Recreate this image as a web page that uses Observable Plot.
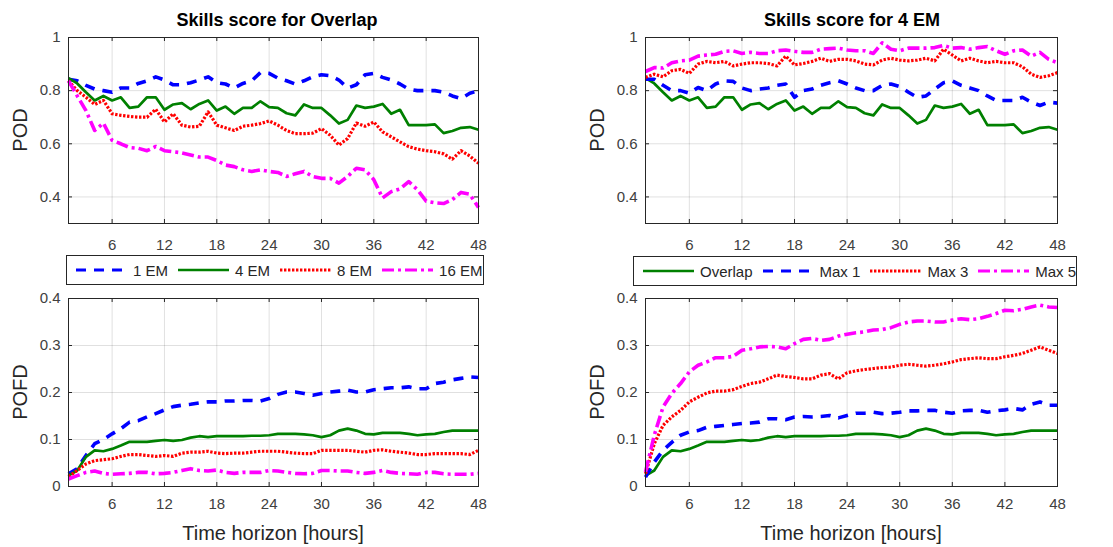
<!DOCTYPE html>
<html><head><meta charset="utf-8">
<script src="https://cdn.jsdelivr.net/npm/d3@7"></script>
<script src="https://cdn.jsdelivr.net/npm/@observablehq/plot@0.6"></script>
<style>
body{margin:0;background:#fff;font-family:"Liberation Sans",Arial,Helvetica,sans-serif;}
#root{position:relative;width:1113px;height:547px;overflow:hidden;background:#fff;}
.abs{position:absolute;}
.title{font-weight:bold;font-size:18px;line-height:18px;color:#000;white-space:nowrap;transform:translateX(-50%);}
.ylab{font-size:20px;line-height:20px;color:#262626;transform:translate(-50%,-50%) rotate(-90deg);white-space:nowrap;}
.xlab{font-size:20px;line-height:20px;color:#262626;transform:translate(-50%,-50%);white-space:nowrap;}
.legend{border:1px solid #262626;box-sizing:border-box;background:#fff;display:flex;align-items:center;padding-left:9px;z-index:5;font-size:15px;color:#262626;}
.item{display:flex;align-items:center;margin-right:10px;white-space:nowrap;}
.item svg{margin-right:6px;display:block;}
</style></head>
<body><div id="root"></div>
<script>
const hours = [1,2,3,4,5,6,7,8,9,10,11,12,13,14,15,16,17,18,19,20,21,22,23,24,25,26,27,28,29,30,31,32,33,34,35,36,37,38,39,40,41,42,43,44,45,46,47,48];
const xTicks = [6,12,18,24,30,36,42,48];
const podTicks = [0.4,0.6,0.8,1];
const pofdTicks = [0,0.1,0.2,0.3,0.4];

// POD, "Skills score for Overlap"
const pod1EM = [.843,.837,.82,.806,.80,.794,.81,.81,.827,.837,.852,.84,.822,.822,.83,.84,.852,.83,.825,.81,.827,.837,.868,.865,.847,.837,.825,.837,.852,.86,.856,.84,.81,.822,.86,.865,.85,.84,.825,.806,.80,.80,.80,.794,.78,.77,.79,.80];
const pod4EM = [.847,.827,.794,.763,.78,.763,.775,.735,.74,.775,.775,.728,.748,.753,.73,.75,.763,.725,.74,.713,.735,.735,.76,.738,.735,.715,.707,.748,.735,.735,.707,.676,.69,.744,.735,.74,.75,.713,.728,.67,.67,.67,.673,.64,.648,.66,.663,.653];
const pod8EM = [.837,.80,.775,.748,.763,.713,.707,.703,.70,.70,.73,.682,.713,.67,.663,.666,.72,.67,.66,.65,.666,.67,.676,.686,.67,.65,.638,.638,.64,.657,.632,.595,.62,.678,.666,.682,.645,.626,.607,.589,.58,.574,.57,.562,.542,.574,.554,.527];
const pod16EM = [.837,.78,.725,.65,.678,.613,.60,.586,.583,.574,.59,.574,.57,.566,.558,.55,.55,.537,.52,.514,.502,.496,.502,.496,.492,.477,.487,.496,.477,.47,.47,.452,.477,.508,.502,.465,.396,.42,.43,.458,.427,.384,.378,.375,.39,.417,.41,.36];
// POD, "Skills score for 4 EM"
const podOverlap = pod4EM;
const podMax1 = [.843,.843,.82,.80,.80,.79,.812,.80,.825,.837,.835,.81,.80,.806,.81,.82,.825,.775,.80,.806,.82,.83,.837,.825,.81,.80,.80,.82,.825,.815,.794,.775,.78,.806,.83,.837,.82,.81,.80,.78,.763,.763,.763,.775,.757,.744,.757,.753];
const podMax3 = [.85,.862,.852,.875,.88,.865,.90,.91,.905,.91,.893,.90,.905,.905,.902,.893,.93,.897,.902,.91,.922,.91,.918,.918,.912,.90,.897,.915,.922,.915,.912,.915,.922,.912,.956,.934,.912,.922,.912,.905,.91,.905,.905,.89,.862,.85,.856,.868];
const podMax5 = [.872,.887,.885,.905,.912,.915,.93,.934,.937,.948,.95,.94,.944,.94,.94,.95,.953,.948,.944,.944,.956,.958,.96,.953,.95,.95,.94,.98,.956,.95,.96,.96,.96,.962,.97,.96,.962,.956,.962,.966,.95,.937,.95,.953,.93,.944,.918,.905];
// POFD
const pofd1EM = [.027,.038,.066,.091,.10,.112,.123,.137,.14,.148,.155,.163,.17,.173,.175,.178,.18,.18,.182,.182,.183,.183,.182,.187,.196,.201,.201,.198,.194,.198,.201,.203,.205,.201,.201,.206,.208,.21,.21,.212,.208,.208,.219,.222,.227,.23,.233,.232];
const pofd4EM = [.023,.034,.063,.077,.075,.08,.087,.095,.095,.095,.097,.099,.097,.099,.104,.107,.105,.107,.107,.107,.107,.108,.108,.109,.112,.112,.112,.111,.109,.105,.109,.119,.123,.119,.112,.111,.114,.114,.114,.112,.109,.111,.112,.116,.119,.119,.119,.119];
const pofd8EM = [.021,.034,.048,.055,.057,.059,.064,.068,.068,.066,.064,.066,.064,.071,.073,.073,.075,.071,.07,.071,.071,.073,.075,.075,.075,.073,.071,.07,.07,.077,.077,.077,.077,.075,.073,.077,.078,.075,.073,.071,.068,.068,.07,.07,.07,.07,.068,.077];
const pofd16EM = [.016,.023,.03,.033,.028,.026,.027,.028,.03,.03,.027,.028,.03,.034,.038,.034,.033,.035,.03,.028,.03,.03,.03,.034,.033,.03,.028,.027,.028,.034,.034,.033,.033,.03,.028,.03,.034,.03,.028,.027,.026,.03,.03,.027,.026,.026,.026,.028];
const pofdOverlap = pofd4EM;
const pofdMax1 = [.02,.052,.077,.094,.109,.116,.119,.126,.128,.13,.132,.134,.135,.137,.144,.144,.142,.148,.149,.148,.149,.151,.146,.151,.156,.156,.158,.155,.156,.158,.161,.161,.162,.162,.158,.156,.161,.162,.162,.158,.161,.163,.166,.163,.175,.18,.173,.173];
const pofdMax3 = [.027,.091,.13,.148,.162,.18,.19,.199,.203,.203,.206,.213,.219,.222,.229,.237,.234,.232,.229,.229,.237,.24,.229,.242,.246,.249,.251,.253,.254,.258,.26,.258,.256,.258,.261,.265,.27,.272,.274,.272,.272,.276,.279,.283,.29,.297,.29,.283];
const pofdMax5 = [.031,.109,.169,.198,.219,.244,.258,.265,.274,.274,.277,.29,.293,.297,.298,.297,.293,.304,.313,.315,.311,.313,.32,.324,.327,.329,.333,.334,.338,.345,.35,.352,.352,.35,.35,.354,.357,.355,.357,.362,.368,.375,.374,.377,.382,.386,.382,.381];

// line styles
const STY = {
  blue:    {stroke:"#0000ff", strokeWidth:3.6, strokeDasharray:"10,8"},
  green:   {stroke:"#008000", strokeWidth:2.7, strokeDasharray:null},
  red:     {stroke:"#ff0000", strokeWidth:3.2, strokeDasharray:"2.4,1.6"},
  magenta: {stroke:"#ff00ff", strokeWidth:3.6, strokeDasharray:"12,4,3,4"}
};

const root = document.getElementById("root");

function panel({series, yDomain, yTicks, left, top, width, height, ml, mr, mt, mb, xPad}) {
  const [x0, x1] = [hours[0], hours[hours.length-1]];
  const kx = (x1 - x0) * 4 / (width - ml - mr);
  const ky = (yDomain[1] - yDomain[0]) * 4 / (height - mt - mb);
  const gridStyle = {stroke:"#000", strokeOpacity:0.12, strokeWidth:1};
  const marks = [
    Plot.gridX({ticks: xTicks, ...gridStyle}),
    Plot.gridY({ticks: yTicks, ...gridStyle}),
    ...series.map(s => Plot.line(hours.map((h,i)=>({h, v:s.values[i]})), {
      x:"h", y:"v", stroke:s.style.stroke, strokeWidth:s.style.strokeWidth,
      strokeDasharray:s.style.strokeDasharray, strokeLinecap:"butt", strokeLinejoin:"round"
    })),
    // inward tick marks (MATLAB style) on all four sides
    Plot.ruleX(xTicks, {y1: yDomain[0], y2: yDomain[0] + ky, stroke:"#262626"}),
    Plot.ruleX(xTicks, {y1: yDomain[1] - ky, y2: yDomain[1], stroke:"#262626"}),
    Plot.ruleY(yTicks, {x1: x0, x2: x0 + kx, stroke:"#262626"}),
    Plot.ruleY(yTicks, {x1: x1 - kx, x2: x1, stroke:"#262626"}),
    Plot.frame({stroke:"#262626", strokeWidth:1}),
    Plot.axisX({ticks: xTicks, tickSize:0, tickPadding:xPad, fontSize:15, fill:"#404040", label:null, tickFormat:d=>String(d)}),
    Plot.axisY({ticks: yTicks, tickSize:0, tickPadding:8, fontSize:15, fill:"#404040", label:null, tickFormat:d=>String(d)})
  ];
  const svg = Plot.plot({
    width, height, marginLeft:ml, marginRight:mr, marginTop:mt, marginBottom:mb,
    x:{domain:[x0,x1]}, y:{domain:yDomain},
    style:{background:"transparent", overflow:"visible", fontFamily:'"Liberation Sans",Arial,sans-serif'},
    marks
  });
  svg.style.position = "absolute";
  svg.style.left = left + "px";
  svg.style.top = top + "px";
  root.appendChild(svg);
}

function addDiv(cls, text, left, top) {
  const d = document.createElement("div");
  d.className = "abs " + cls;
  d.textContent = text;
  d.style.left = left + "px";
  d.style.top = top + "px";
  root.appendChild(d);
  return d;
}

function legend(entries, left, top, width, height) {
  const box = document.createElement("div");
  box.className = "abs legend";
  Object.assign(box.style, {left:left+"px", top:top+"px", width:width+"px", height:height+"px"});
  for (const e of entries) {
    const it = document.createElement("div");
    it.className = "item";
    const ns = "http://www.w3.org/2000/svg";
    const s = document.createElementNS(ns, "svg");
    s.setAttribute("width", 51); s.setAttribute("height", 10);
    const ln = document.createElementNS(ns, "line");
    ln.setAttribute("x1", 0); ln.setAttribute("x2", 51); ln.setAttribute("y1", 5); ln.setAttribute("y2", 5);
    ln.setAttribute("stroke", e.style.stroke);
    ln.setAttribute("stroke-width", Math.min(e.style.strokeWidth, 3));
    if (e.style.strokeDasharray) ln.setAttribute("stroke-dasharray", e.style.strokeDasharray);
    s.appendChild(ln);
    it.appendChild(s);
    const t = document.createElement("span");
    t.textContent = e.name;
    it.appendChild(t);
    box.appendChild(it);
  }
  root.appendChild(box);
}

const leftSeries = [
  {name:"1 EM", style:STY.blue},
  {name:"4 EM", style:STY.green},
  {name:"8 EM", style:STY.red},
  {name:"16 EM", style:STY.magenta}
];
const rightSeries = [
  {name:"Overlap", style:STY.green},
  {name:"Max 1", style:STY.blue},
  {name:"Max 3", style:STY.red},
  {name:"Max 5", style:STY.magenta}
];

panel({series:[{...leftSeries[0], values:pod1EM},{...leftSeries[1], values:pod4EM},{...leftSeries[2], values:pod8EM},{...leftSeries[3], values:pod16EM}],
  yDomain:[0.3,1], yTicks:podTicks, left:0, top:0, width:556, height:260, ml:68, mr:78, mt:37, mb:37, xPad:16});
panel({series:[{...rightSeries[0], values:podOverlap},{...rightSeries[1], values:podMax1},{...rightSeries[2], values:podMax3},{...rightSeries[3], values:podMax5}],
  yDomain:[0.3,1], yTicks:podTicks, left:556, top:0, width:557, height:260, ml:89, mr:56, mt:37, mb:37, xPad:16});
panel({series:[{...leftSeries[0], values:pofd1EM},{...leftSeries[1], values:pofd4EM},{...leftSeries[2], values:pofd8EM},{...leftSeries[3], values:pofd16EM}],
  yDomain:[0,0.4], yTicks:pofdTicks, left:0, top:287, width:556, height:260, ml:68, mr:78, mt:11, mb:61, xPad:12});
panel({series:[{...rightSeries[0], values:pofdOverlap},{...rightSeries[1], values:pofdMax1},{...rightSeries[2], values:pofdMax3},{...rightSeries[3], values:pofdMax5}],
  yDomain:[0,0.4], yTicks:pofdTicks, left:556, top:287, width:557, height:260, ml:89, mr:56, mt:11, mb:61, xPad:12});

addDiv("title", "Skills score for Overlap", 277, 10.5);
addDiv("title", "Skills score for 4 EM", 852, 10.5);
addDiv("ylab", "POD", 20, 130);
addDiv("ylab", "POD", 597, 130);
addDiv("ylab", "POFD", 20, 392);
addDiv("ylab", "POFD", 597, 392);
addDiv("xlab", "Time horizon [hours]", 273, 533);
addDiv("xlab", "Time horizon [hours]", 851, 533);

legend(leftSeries, 66, 255, 418, 30);
legend(rightSeries, 633, 256, 444, 30);
</script>
</body></html>
